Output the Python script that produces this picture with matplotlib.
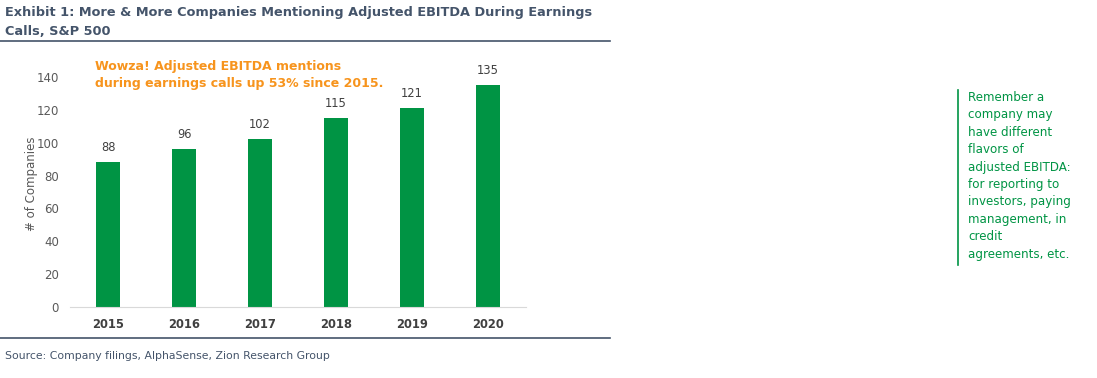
import matplotlib.pyplot as plt
import numpy as np

years = ["2015", "2016", "2017", "2018", "2019", "2020"]
companies = [88, 96, 102, 115, 121, 135]

title_text = "Exhibit 1: More & More Companies Mentioning Adjusted EBITDA During Earnings\nCalls, S&P 500"
callout = "Wowza! Adjusted EBITDA mentions\nduring earnings calls up 53% since 2015."
side_note = ("Remember a\ncompany may\nhave different\nflavors of\nadjusted EBITDA:\n"
             "for reporting to\ninvestors, paying\nmanagement, in\ncredit\nagreements, etc.")
source = "Source: Company filings, AlphaSense, Zion Research Group"

green = "#009444"
orange = "#f7941d"
slate = "#44546a"
W, H = 1097, 378

plt.rcParams['font.family'] = ['DejaVu Sans']
fig = plt.figure(figsize=(W / 100, H / 100), dpi=100)

# axes placed in pixel terms: x 70..526, y(0)=307, top at ylim 150
ax = fig.add_axes([70 / W, (H - 307) / H, 456 / W, 246.4 / H])
x = np.arange(len(years))
bars = ax.bar(x, companies, width=0.31, color=green)
ax.set_xlim(-0.5, len(years) - 0.5)
ax.set_ylim(0, 150)
ax.set_yticks(range(0, 141, 20))
for s in ["top", "right", "left"]:
    ax.spines[s].set_visible(False)
ax.spines["bottom"].set_color("#d9d9d9")
ax.tick_params(axis="y", length=0, labelsize=8.5, labelcolor="#595959", pad=8)
ax.tick_params(axis="x", length=0, pad=8)
ax.set_xticks(x)
ax.set_xticklabels(years, fontsize=8.3, fontweight="bold", color="#404040")
ax.set_ylabel("# of Companies", fontsize=8.5, color="#595959", labelpad=-1)
for b, v in zip(bars, companies):
    ax.annotate(str(v), (b.get_x() + b.get_width() / 2, v), xytext=(0, 6),
                textcoords="offset points", ha="center", va="bottom",
                fontsize=8.3, color="#404040")

fig.text(5 / W, 1 - 6 / H, title_text, ha="left", va="top", fontsize=9.3,
         fontweight="bold", color=slate, linespacing=1.6)
fig.add_artist(plt.Line2D([0, 610 / W], [1 - 41 / H, 1 - 41 / H], color=slate, lw=1.2))
fig.add_artist(plt.Line2D([0, 610 / W], [1 - 338 / H, 1 - 338 / H], color=slate, lw=1.2))
fig.text(95 / W, 1 - 60 / H, callout, ha="left", va="top", fontsize=9.0,
         fontweight="bold", color=orange, linespacing=1.45)
fig.text(5 / W, 1 - 356 / H, source, ha="left", va="center", fontsize=7.8, color=slate)

fig.add_artist(plt.Line2D([958 / W, 958 / W], [1 - 90 / H, 1 - 265 / H], color=green, lw=1.2))
fig.text(968 / W, 1 - 91 / H, side_note, ha="left", va="top", fontsize=8.6,
         color=green, linespacing=1.44)

fig.savefig("out.png", dpi=100)
